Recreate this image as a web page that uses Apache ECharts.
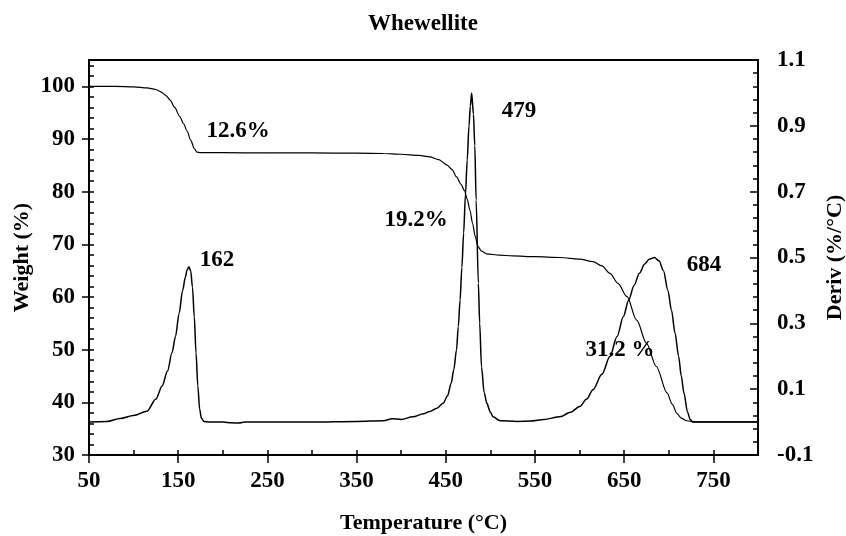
<!DOCTYPE html>
<html>
<head>
<meta charset="utf-8">
<script src="https://cdn.jsdelivr.net/npm/echarts@6/dist/echarts.min.js"></script>
<style>
  html, body { margin: 0; padding: 0; background: #fff; }
  #chart { width: 846px; height: 536px; }
</style>
</head>
<body>
<div id="chart"></div>
<script>
// TGA weight-loss curve (left axis) and its derivative (right axis)
const weightTemp = [50, 80, 100, 115, 125, 130, 136, 141, 146, 152, 156, 160, 164, 168, 171, 175,
  200, 250, 300, 350, 380, 400, 420, 432, 442, 451, 457, 462, 467, 471, 474, 477, 480, 483, 486,
  490, 496, 510, 525, 550, 578, 600, 615, 625, 634, 643, 653, 664, 675, 686, 698, 704, 709, 714,
  720, 730, 800];
const weightPct = [100.0, 100.0, 99.9, 99.7, 99.4, 99.0, 98.3, 97.4, 96.0, 94.2, 92.9, 91.5, 89.8,
  88.2, 87.5, 87.4, 87.4, 87.35, 87.35, 87.3, 87.25, 87.1, 86.9, 86.6, 86.1, 85.1, 84.2, 82.8,
  81.4, 80.2, 78.6, 76.5, 74.0, 71.5, 69.6, 68.7, 68.2, 67.95, 67.8, 67.65, 67.5, 67.2, 66.7,
  65.9, 64.5, 62.6, 60.1, 55.6, 51.2, 46.8, 41.8, 39.6, 37.9, 37.0, 36.5, 36.3, 36.3];

const derivTemp = [50, 70, 85, 100, 115, 125, 132, 138, 143, 147, 151, 155, 158, 160, 162, 164,
  166, 168, 170, 172, 174, 176, 179, 185, 200, 210, 218, 225, 260, 300, 350, 380, 390, 400, 413,
  425, 432, 440, 447, 452, 456, 459, 462, 464, 466, 468, 470, 472, 474, 476, 477.5, 479, 481,
  482.5, 484, 486.5, 488, 490, 493, 496, 500, 503, 511, 530, 545, 560, 578, 590, 600, 608, 615,
  625, 634, 642, 649, 655, 661, 667, 673, 678, 684, 689, 694, 699, 703, 707, 711, 714, 717, 721,
  724, 727, 800];
const derivVal = [0.0, 0.002, 0.011, 0.02, 0.033, 0.07, 0.11, 0.155, 0.21, 0.26, 0.33, 0.40, 0.44,
  0.462, 0.472, 0.46, 0.41, 0.32, 0.21, 0.11, 0.04, 0.012, 0.002, 0.0, 0.0, -0.002, -0.003, 0.0,
  0.0, 0.0, 0.002, 0.004, 0.01, 0.008, 0.016, 0.025, 0.032, 0.042, 0.057, 0.08, 0.118, 0.16,
  0.219, 0.29, 0.371, 0.47, 0.574, 0.69, 0.796, 0.9, 0.96, 1.0, 0.935, 0.84, 0.675, 0.422, 0.3,
  0.168, 0.09, 0.057, 0.03, 0.016, 0.004, 0.002, 0.003, 0.008, 0.016, 0.03, 0.047, 0.07, 0.098,
  0.145, 0.199, 0.26, 0.32, 0.37, 0.415, 0.452, 0.48, 0.495, 0.5, 0.49, 0.46, 0.40, 0.34, 0.27,
  0.20, 0.14, 0.088, 0.03, 0.008, 0.0, 0.0];

// Axis tick values and labels
const tempTicks = [50, 150, 250, 350, 450, 550, 650, 750];
const tempMinorTicks = [50, 100, 150, 200, 250, 300, 350, 400, 450, 500, 550, 600, 650, 700, 750, 800];
const weightTicks = [30, 40, 50, 60, 70, 80, 90, 100];
const derivTicks = [-0.1, 0.1, 0.3, 0.5, 0.7, 0.9, 1.1];

// Peak temperatures and step losses written on the plot
const peakLabels = ['162', '479', '684'];
const lossLabels = ['12.6%', '19.2%', '31.2 %'];

const weightMinorTicks = [];
for (let v = 30; v <= 104; v += 2) weightMinorTicks.push(v);
const derivMinorTicks = [];
for (let i = 0; i <= 30; i++) derivMinorTicks.push(Math.round((-0.1 + i * 0.04) * 100) / 100);

const FONT = 'Liberation Serif';
const txt = { fontFamily: FONT, fontWeight: 'bold', fontSize: 23, color: '#000' };
const nameTxt = { fontFamily: FONT, fontWeight: 'bold', fontSize: 22, color: '#000' };

const chart = echarts.init(document.getElementById('chart'), null, { renderer: 'canvas' });

const tickLine = { color: '#000', width: 1.5 };
const noLine = { show: false, onZero: false };

const option = {
  animation: false,
  backgroundColor: '#fff',
  title: {
    text: 'Whewellite',
    left: 'center',
    top: 8,
    textStyle: Object.assign({}, txt)
  },
  grid: {
    left: 89, right: 88, top: 60, bottom: 81,
    outerBoundsMode: 'none', containLabel: false,
    show: true, borderColor: '#000', borderWidth: 2, backgroundColor: 'transparent'
  },
  xAxis: [
    {
      type: 'value', min: 50, max: 800, position: 'bottom',
      name: 'Temperature (°C)', nameLocation: 'middle', nameGap: 57,
      nameTextStyle: Object.assign({}, nameTxt),
      axisLine: { show: true, onZero: false, lineStyle: { color: '#000', width: 2 } },
      axisTick: { show: true, inside: false, length: 8, lineStyle: tickLine, customValues: tempTicks },
      axisLabel: { show: true, margin: 15, customValues: tempTicks, ...txt },
      splitLine: { show: false }
    },
    {
      type: 'value', min: 50, max: 800, position: 'bottom',
      axisLine: noLine,
      axisTick: { show: true, inside: true, length: 5, lineStyle: tickLine, customValues: tempMinorTicks },
      axisLabel: { show: false },
      splitLine: { show: false }
    }
  ],
  yAxis: [
    {
      type: 'value', min: 30, max: 105, position: 'left',
      name: 'Weight (%)', nameLocation: 'middle', nameGap: 56, nameRotate: 90,
      nameMoveOverlap: false,
      nameTextStyle: Object.assign({}, nameTxt),
      axisLine: { show: true, onZero: false, lineStyle: { color: '#000', width: 2 } },
      axisTick: { show: true, inside: false, length: 7, lineStyle: tickLine, customValues: weightTicks },
      axisLabel: { show: true, margin: 14, customValues: weightTicks, ...txt },
      splitLine: { show: false }
    },
    {
      type: 'value', min: 30, max: 105, position: 'left',
      axisLine: noLine,
      axisTick: { show: true, inside: true, length: 5, lineStyle: tickLine, customValues: weightMinorTicks },
      axisLabel: { show: false },
      splitLine: { show: false }
    },
    {
      type: 'value', min: -0.1, max: 1.1, position: 'right',
      name: 'Deriv (%/°C)', nameLocation: 'middle', nameGap: 64, nameRotate: 90,
      nameTextStyle: Object.assign({}, nameTxt),
      axisLine: { show: true, onZero: false, lineStyle: { color: '#000', width: 2 } },
      axisTick: { show: true, inside: true, length: 8, lineStyle: tickLine, customValues: derivTicks },
      axisLabel: { show: true, margin: 19, customValues: derivTicks, ...txt,
        formatter: v => (Math.round(v * 10) / 10).toFixed(1) },
      splitLine: { show: false }
    },
    {
      type: 'value', min: -0.1, max: 1.1, position: 'right',
      axisLine: noLine,
      axisTick: { show: true, inside: true, length: 5, lineStyle: tickLine, customValues: derivMinorTicks },
      axisLabel: { show: false },
      splitLine: { show: false }
    }
  ],
  series: [
    {
      name: 'Weight', type: 'line', xAxisIndex: 0, yAxisIndex: 0,
      data: weightTemp.map((t, i) => [t, weightPct[i]]),
      showSymbol: false, smooth: 0.3, smoothMonotone: 'x',
      lineStyle: { color: '#000', width: 1.2 }
    },
    {
      name: 'Deriv', type: 'line', xAxisIndex: 0, yAxisIndex: 2,
      data: derivTemp.map((t, i) => [t, derivVal[i]]),
      showSymbol: false, smooth: 0.3, smoothMonotone: 'x',
      lineStyle: { color: '#000', width: 1.5 }
    }
  ],
  graphic: [
    { type: 'text', x: 238, y: 131, style: { text: lossLabels[0], font: `bold 23px "${FONT}"`, fill: '#000', align: 'center', verticalAlign: 'middle' } },
    { type: 'text', x: 217, y: 260, style: { text: peakLabels[0], font: `bold 23px "${FONT}"`, fill: '#000', align: 'center', verticalAlign: 'middle' } },
    { type: 'text', x: 519, y: 111, style: { text: peakLabels[1], font: `bold 23px "${FONT}"`, fill: '#000', align: 'center', verticalAlign: 'middle' } },
    { type: 'text', x: 416, y: 220, style: { text: lossLabels[1], font: `bold 23px "${FONT}"`, fill: '#000', align: 'center', verticalAlign: 'middle' } },
    { type: 'text', x: 704, y: 265, style: { text: peakLabels[2], font: `bold 23px "${FONT}"`, fill: '#000', align: 'center', verticalAlign: 'middle' } },
    { type: 'text', x: 620, y: 350, style: { text: lossLabels[2], font: `bold 23px "${FONT}"`, fill: '#000', align: 'center', verticalAlign: 'middle' } }
  ]
};

chart.setOption(option);
</script>
</body>
</html>
